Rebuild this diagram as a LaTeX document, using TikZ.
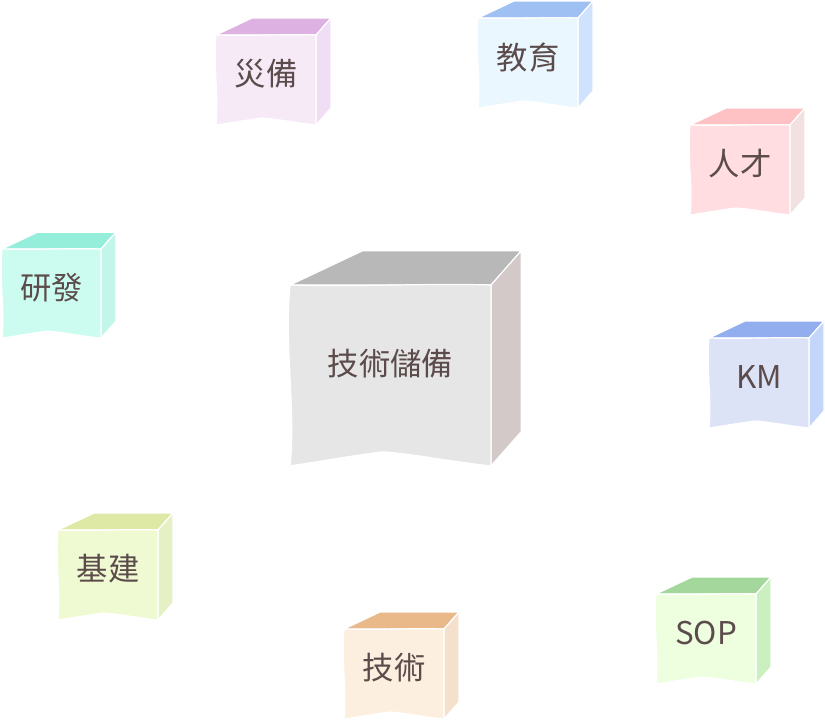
\documentclass[tikz,border=0pt]{standalone}
\usepackage{fontspec}
\setmainfont{Noto Sans CJK TC}
\usepackage{tikz}
\definecolor{labelbrown}{HTML}{5B4B4B}
\definecolor{coreFront}{HTML}{E6E6E6}
\definecolor{coreTop}{HTML}{B9B8B9}
\definecolor{coreSide}{HTML}{D4C9C9}
\definecolor{drFront}{HTML}{F6EAF7}
\definecolor{drTop}{HTML}{DDB2E2}
\definecolor{drSide}{HTML}{F0DDF6}
\definecolor{edFront}{HTML}{EBF7FE}
\definecolor{edTop}{HTML}{9EC0F2}
\definecolor{edSide}{HTML}{CFE2FE}
\definecolor{hrFront}{HTML}{FFDDE0}
\definecolor{hrTop}{HTML}{FFC2C4}
\definecolor{hrSide}{HTML}{F3E0E0}
\definecolor{rdFront}{HTML}{CCFCF0}
\definecolor{rdTop}{HTML}{94EEDA}
\definecolor{rdSide}{HTML}{C3F6EB}
\definecolor{kmFront}{HTML}{DCE3F7}
\definecolor{kmTop}{HTML}{93AEEF}
\definecolor{kmSide}{HTML}{C4D5FA}
\definecolor{inFront}{HTML}{F0FAD2}
\definecolor{inTop}{HTML}{DEE9A5}
\definecolor{inSide}{HTML}{E5F0C5}
\definecolor{tcFront}{HTML}{FDEFE0}
\definecolor{tcTop}{HTML}{E9B98A}
\definecolor{tcSide}{HTML}{F5E0CC}
\definecolor{sopFront}{HTML}{EEFFE0}
\definecolor{sopTop}{HTML}{A3D79B}
\definecolor{sopSide}{HTML}{C9F0BE}
\tikzset{
  faceedge/.style={draw=white, line width=0.9pt, line join=round},
  cubetext/.style={font=\fontsize{23.5}{27}\selectfont, text=labelbrown, inner sep=0pt}
}
% #1,#2 top-left corner of the front face, #3 scale, #4 node name, #5 text,
% #6 front colour, #7 top colour, #8 side colour
\newcommand{\drawcube}[8]{%
  \begin{scope}[shift={(#1,#2)}, scale=#3]
    \path[faceedge, fill=#7] (0,0) -- (36,-17) -- (115,-17) -- (100,0) -- cycle;
    \path[faceedge, fill=#8] (100,0) -- (115,-17) -- (115,73) -- (100,90) -- cycle;
    \path[faceedge, fill=#6] (0,0) .. controls (35,1) and (70,-1) .. (100,0)
      -- (100,90) .. controls (80,88) and (62,84) .. (46,83)
      .. controls (30,85) and (14,88) .. (0,90)
      .. controls (3,62) and (-3,30) .. (0,0) -- cycle;
    \node[cubetext] (#4) at (50,39) {#5};
  \end{scope}
}

\begin{document}
\begin{tikzpicture}[x=0.75pt, y=-0.75pt]
  \useasboundingbox (0,0) rectangle (825,719);
  \drawcube{290}{285}{2.01}{core}{技術儲備}{coreFront}{coreTop}{coreSide}
  \drawcube{216}{35}{1}{disaster}{災備}{drFront}{drTop}{drSide}
  \drawcube{478}{18}{1}{education}{教育}{edFront}{edTop}{edSide}
  \drawcube{690}{125}{1}{talent}{人才}{hrFront}{hrTop}{hrSide}
  \drawcube{2}{249}{0.99}{research}{研發}{rdFront}{rdTop}{rdSide}
  \drawcube{709}{338}{1}{km}{KM}{kmFront}{kmTop}{kmSide}
  \drawcube{58}{530}{1}{infra}{基建}{inFront}{inTop}{inSide}
  \drawcube{344}{629}{1}{tech}{技術}{tcFront}{tcTop}{tcSide}
  \drawcube{656}{594}{1}{sop}{SOP}{sopFront}{sopTop}{sopSide}
\end{tikzpicture}
\end{document}
